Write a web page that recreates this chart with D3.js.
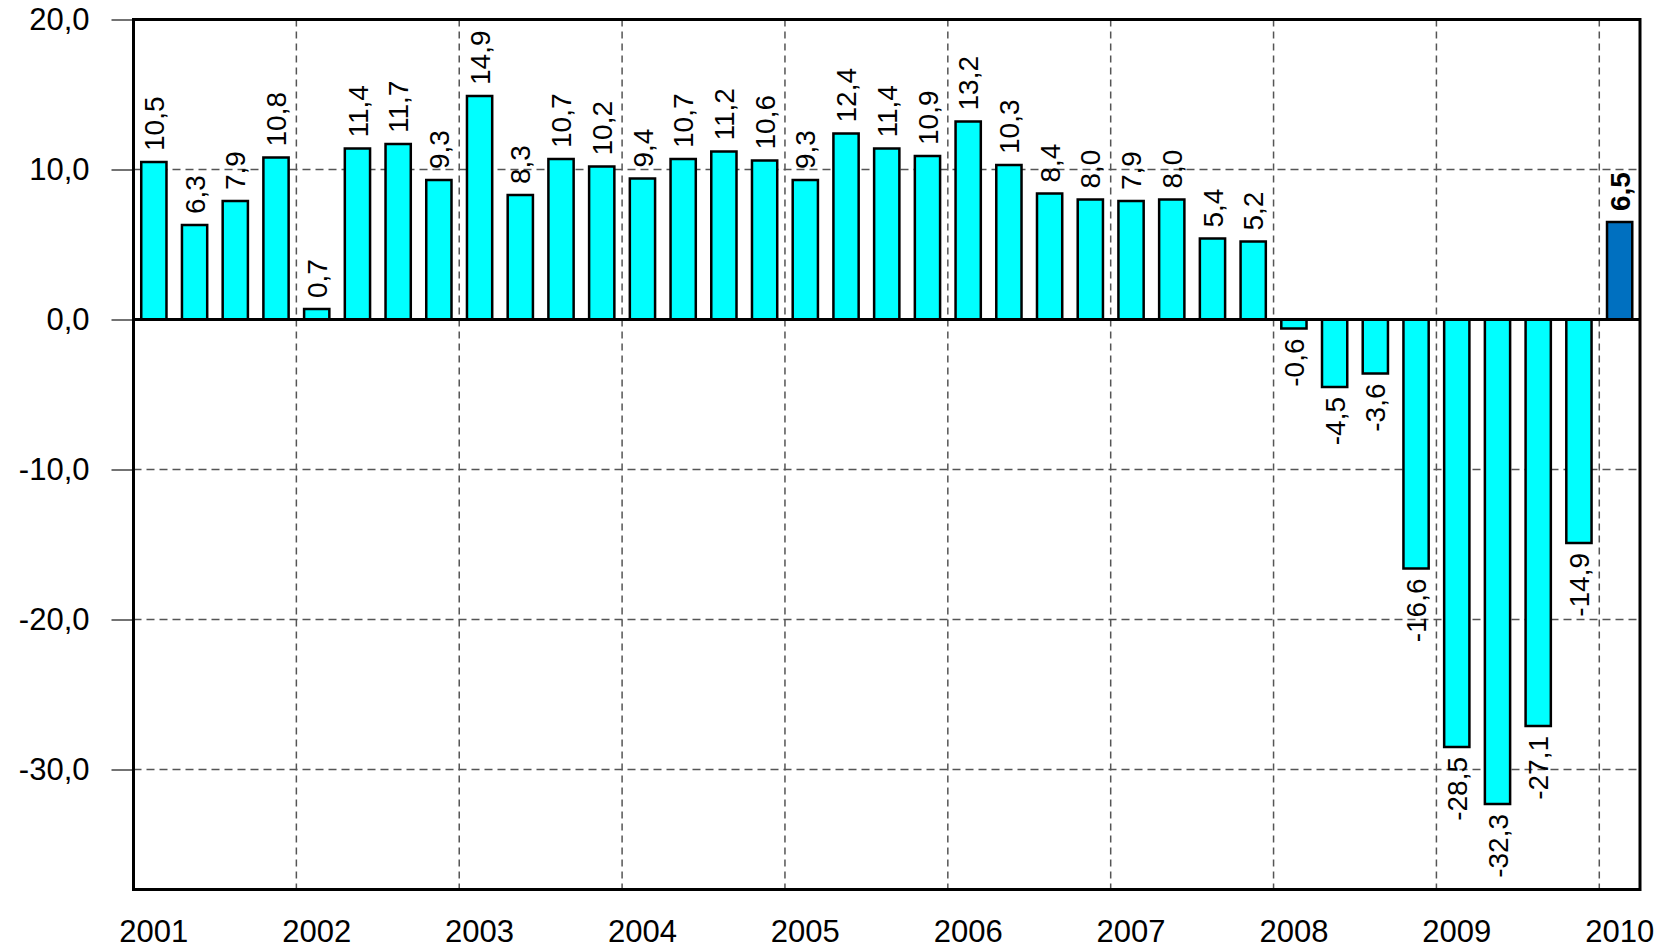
<!DOCTYPE html>
<html>
<head>
<meta charset="utf-8">
<script src="https://cdn.jsdelivr.net/npm/d3@7"></script>
<style>
  html, body { margin: 0; padding: 0; background: #fff; }
  svg { display: block; font-family: Arial, "Liberation Sans", sans-serif; }
</style>
</head>
<body>
<svg id="chart" width="1671" height="950"></svg>
<script>
const years = ["2001","2002","2003","2004","2005","2006","2007","2008","2009","2010"];
const quarters = ["Q1","Q2","Q3","Q4"];
const values = [
  10.5, 6.3, 7.9, 10.8,
  0.7, 11.4, 11.7, 9.3,
  14.9, 8.3, 10.7, 10.2,
  9.4, 10.7, 11.2, 10.6,
  9.3, 12.4, 11.4, 10.9,
  13.2, 10.3, 8.4, 8.0,
  7.9, 8.0, 5.4, 5.2,
  -0.6, -4.5, -3.6, -16.6,
  -28.5, -32.3, -27.1, -14.9,
  6.5
];
const yTicks = [20, 10, 0, -10, -20, -30];
const yDomain = [-38, 20];

const categories = values.map((v, i) => years[Math.floor(i / 4)] + " " + quarters[i % 4]);
const data = values.map((v, i) => ({ cat: categories[i], v, last: i === values.length - 1 }));

const svg = d3.select("#chart");
const pL = 133.5, pR = 1640, pT = 19.5, pB = 889.5;

const x = d3.scaleBand().domain(categories).range([pL, pR]).paddingInner(0.38).paddingOuter(0.19);
const y = d3.scaleLinear().domain(yDomain).range([pB, pT]);
const step = x.step();
const fmt = v => d3.format(".1f")(v).replace(".", ",").replace("−", "-");

// horizontal gridlines
svg.append("g").selectAll("line").data(yTicks.filter(t => t !== 0 && t !== 20)).join("line")
  .attr("x1", pL).attr("x2", pR)
  .attr("y1", d => y(d)).attr("y2", d => y(d))
  .attr("stroke", "#555").attr("stroke-width", 1.5).attr("stroke-dasharray", "8,5");

// vertical gridlines at year boundaries
const boundaries = years.slice(1).map(yr => yr + " Q1");
svg.append("g").selectAll("line").data(boundaries).join("line")
  .attr("x1", d => x(d) - (step - x.bandwidth()) / 2).attr("x2", d => x(d) - (step - x.bandwidth()) / 2)
  .attr("y1", pT).attr("y2", pB)
  .attr("stroke", "#555").attr("stroke-width", 1.5).attr("stroke-dasharray", "7,5");

// y axis ticks and labels
const yAxis = d3.axisLeft(y).tickValues(yTicks).tickSize(22).tickPadding(22)
  .tickFormat(fmt);
const gy = svg.append("g").attr("transform", `translate(${pL},0)`).call(yAxis);
gy.select(".domain").remove();
gy.selectAll(".tick line").attr("stroke", "#444").attr("stroke-width", 1.5);
gy.selectAll(".tick text").attr("font-size", 31).attr("fill", "#000")
  .attr("font-family", "Arial, 'Liberation Sans', sans-serif");

// x axis year labels (under Q1 bars)
const xAxis = d3.axisBottom(x).tickValues(years.map(yr => yr + " Q1")).tickSize(0).tickPadding(0)
  .tickFormat(d => d.split(" ")[0]);
const gx = svg.append("g").attr("transform", `translate(0,${pB})`).call(xAxis);
gx.select(".domain").remove();
gx.selectAll(".tick text").attr("font-size", 31).attr("fill", "#000").attr("y", 52).attr("dy", 0)
  .attr("font-family", "Arial, 'Liberation Sans', sans-serif");

// bars
svg.append("g").selectAll("rect").data(data).join("rect")
  .attr("x", d => x(d.cat))
  .attr("width", x.bandwidth())
  .attr("y", d => y(Math.max(0, d.v)))
  .attr("height", d => Math.abs(y(d.v) - y(0)))
  .attr("fill", d => d.last ? "#0070C0" : "#00FFFF")
  .attr("stroke", "#000").attr("stroke-width", 2.5);

// zero line
svg.append("line").attr("x1", pL).attr("x2", pR).attr("y1", y(0)).attr("y2", y(0))
  .attr("stroke", "#000").attr("stroke-width", 3);

// frame
svg.append("rect").attr("x", pL).attr("y", pT).attr("width", pR - pL).attr("height", pB - pT)
  .attr("fill", "none").attr("stroke", "#000").attr("stroke-width", 3);

// value labels (rotated)
svg.append("g").selectAll("text").data(data).join("text")
  .attr("transform", d => {
    const cx = x(d.cat) + x.bandwidth() / 2;
    const cy = d.v >= 0 ? y(d.v) - 11 : y(d.v) + 10;
    return `translate(${cx},${cy}) rotate(-90)`;
  })
  .attr("text-anchor", d => d.v >= 0 ? "start" : "end")
  .attr("dy", "0.36em")
  .attr("font-size", 28)
  .attr("font-weight", d => d.last ? "bold" : "normal")
  .attr("fill", "#000")
  .text(d => fmt(d.v));
</script>
</body>
</html>
